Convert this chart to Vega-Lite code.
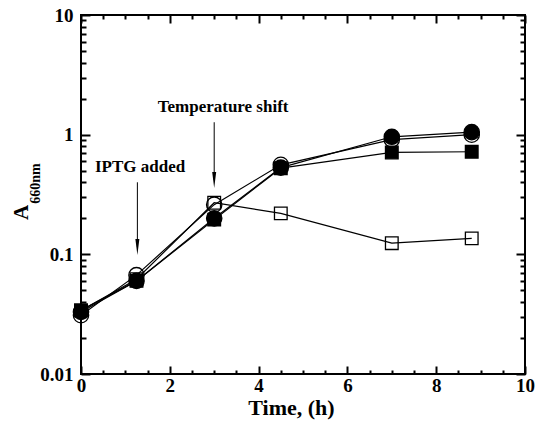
{
  "$schema": "https://vega.github.io/schema/vega-lite/v6.json",
  "width": 444,
  "height": 359,
  "autosize": "none",
  "padding": {"left": 81, "top": 15, "right": 17, "bottom": 49},
  "background": "white",
  "config": {
    "view": {"stroke": "black", "strokeWidth": 2},
    "axis": {
      "grid": false,
      "domain": false,
      "tickColor": "black",
      "labelColor": "black",
      "titleColor": "black",
      "labelFont": "Liberation Serif",
      "titleFont": "Liberation Serif",
      "labelFontWeight": "bold",
      "titleFontWeight": "bold"
    }
  },
  "datasets": {
    "growth": [
      {"series": "open square", "time": 0, "a660": 0.034},
      {"series": "filled square", "time": 0, "a660": 0.034},
      {"series": "open circle", "time": 0, "a660": 0.031},
      {"series": "filled circle", "time": 0, "a660": 0.033},
      {"series": "open square", "time": 1.25, "a660": 0.062},
      {"series": "filled square", "time": 1.25, "a660": 0.06},
      {"series": "open circle", "time": 1.25, "a660": 0.067},
      {"series": "filled circle", "time": 1.25, "a660": 0.06},
      {"series": "filled circle", "time": 3, "a660": 0.2},
      {"series": "open circle", "time": 3, "a660": 0.26},
      {"series": "open square", "time": 3, "a660": 0.27},
      {"series": "filled square", "time": 3, "a660": 0.195},
      {"series": "open square", "time": 4.5, "a660": 0.22},
      {"series": "filled square", "time": 4.5, "a660": 0.525},
      {"series": "open circle", "time": 4.5, "a660": 0.56},
      {"series": "filled circle", "time": 4.5, "a660": 0.53},
      {"series": "open square", "time": 7, "a660": 0.124},
      {"series": "filled square", "time": 7, "a660": 0.71},
      {"series": "open circle", "time": 7, "a660": 0.91},
      {"series": "filled circle", "time": 7, "a660": 0.96},
      {"series": "open square", "time": 8.8, "a660": 0.136},
      {"series": "filled square", "time": 8.8, "a660": 0.72},
      {"series": "open circle", "time": 8.8, "a660": 1.0},
      {"series": "filled circle", "time": 8.8, "a660": 1.05}
    ],
    "notes": [
      {"label": "IPTG added", "time": 1.33, "a660": 0.536},
      {"label": "Temperature shift", "time": 3.2, "a660": 1.71}
    ],
    "arrows": [
      {"time": 1.27, "top": 0.4, "head": 0.115},
      {"time": 3.0, "top": 1.27, "head": 0.418}
    ]
  },
  "resolve": {"axis": {"x": "independent", "y": "independent"}},
  "layer": [
    {
      "data": {"name": "growth"},
      "mark": {"type": "line", "color": "black", "strokeWidth": 1.2},
      "encoding": {
        "x": {
          "field": "time", "type": "quantitative",
          "scale": {"domain": [0, 10], "nice": false, "zero": false},
          "axis": {
            "orient": "bottom", "values": [0, 2, 4, 6, 8, 10], "ticks": false, "tickSize": 0,
            "labelFontSize": 19, "labelPadding": 2, "labelFlush": false, "labelOverlap": false,
            "title": "Time, (h)", "titleFontSize": 22, "titleX": 210, "titleY": 40,
            "titleAlign": "center", "titleBaseline": "alphabetic"
          }
        },
        "y": {
          "field": "a660", "type": "quantitative",
          "scale": {"type": "log", "domain": [0.01, 10], "nice": false},
          "axis": {
            "orient": "left", "values": [0.01, 0.1, 1, 10], "ticks": false, "tickSize": 0,
            "labelFontSize": 19, "labelPadding": 8, "labelFlush": false, "labelOverlap": false,
            "labelExpr": "datum.value == 0.01 ? '0.01' : datum.value == 0.1 ? '0.1' : datum.value == 1 ? '1' : '10'",
            "title": "A", "titleFontSize": 21, "titleAngle": 270, "titleX": -54, "titleY": 197,
            "titleAlign": "center", "titleBaseline": "alphabetic"
          }
        },
        "detail": {"field": "series", "type": "nominal"}
      }
    },
    {
      "data": {"name": "growth"},
      "mark": {"type": "point", "stroke": "black", "strokeWidth": 1.3, "opacity": 1},
      "encoding": {
        "x": {
          "field": "time", "type": "quantitative",
          "scale": {"domain": [0, 10], "nice": false, "zero": false},
          "axis": {"orient": "top", "values": [0, 2, 4, 6, 8, 10], "labels": false, "tickSize": -8, "tickWidth": 2, "title": null}
        },
        "y": {
          "field": "a660", "type": "quantitative",
          "scale": {"type": "log", "domain": [0.01, 10], "nice": false},
          "axis": {"orient": "right", "values": [0.01, 0.1, 1, 10], "labels": false, "tickSize": -9, "tickWidth": 2, "title": null}
        },
        "shape": {
          "field": "series", "type": "nominal",
          "scale": {"domain": ["filled circle", "open circle", "filled square", "open square"], "range": ["circle", "circle", "square", "square"]},
          "legend": null
        },
        "fill": {
          "field": "series", "type": "nominal",
          "scale": {"domain": ["filled circle", "open circle", "filled square", "open square"], "range": ["black", "transparent", "black", "transparent"]},
          "legend": null
        },
        "size": {
          "field": "series", "type": "nominal",
          "scale": {"type": "ordinal", "domain": ["filled circle", "open circle", "filled square", "open square"], "range": [235, 235, 160, 160]},
          "legend": null
        }
      }
    },
    {
      "data": {"name": "notes"},
      "mark": {"type": "text", "font": "Liberation Serif", "fontWeight": "bold", "fontSize": 17, "color": "black", "align": "center", "baseline": "middle"},
      "encoding": {
        "x": {
          "field": "time", "type": "quantitative",
          "scale": {"domain": [0, 10], "nice": false, "zero": false},
          "axis": {"orient": "bottom", "values": [0, 2, 4, 6, 8, 10], "labels": false, "tickSize": -8, "tickWidth": 2, "title": null}
        },
        "y": {
          "field": "a660", "type": "quantitative",
          "scale": {"type": "log", "domain": [0.01, 10], "nice": false},
          "axis": {"orient": "left", "values": [0.01, 0.1, 1, 10], "labels": false, "tickSize": -9, "tickWidth": 2, "title": null}
        },
        "text": {"field": "label", "type": "nominal"}
      }
    },
    {
      "data": {"name": "arrows"},
      "mark": {"type": "rule", "color": "black", "strokeWidth": 1},
      "encoding": {
        "x": {
          "field": "time", "type": "quantitative",
          "scale": {"domain": [0, 10], "nice": false, "zero": false},
          "axis": {"orient": "top", "values": [0.5, 1, 1.5, 2.5, 3, 3.5, 4.5, 5, 5.5, 6.5, 7, 7.5, 8.5, 9, 9.5], "labels": false, "tickSize": -4, "tickWidth": 2, "title": null}
        },
        "y": {
          "field": "top", "type": "quantitative",
          "scale": {"type": "log", "domain": [0.01, 10], "nice": false},
          "axis": {"orient": "right", "values": [0.02, 0.03, 0.04, 0.05, 0.06, 0.07, 0.08, 0.09, 0.2, 0.3, 0.4, 0.5, 0.6, 0.7, 0.8, 0.9, 2, 3, 4, 5, 6, 7, 8, 9], "labels": false, "tickSize": -5, "tickWidth": 2, "title": null}
        },
        "y2": {"field": "head"}
      }
    },
    {
      "data": {"name": "arrows"},
      "mark": {"type": "point", "shape": "M-0.25,-1L0.25,-1L0,1Z", "filled": true, "color": "black", "opacity": 1, "size": 256},
      "encoding": {
        "x": {
          "field": "time", "type": "quantitative",
          "scale": {"domain": [0, 10], "nice": false, "zero": false},
          "axis": {"orient": "bottom", "values": [0.5, 1, 1.5, 2.5, 3, 3.5, 4.5, 5, 5.5, 6.5, 7, 7.5, 8.5, 9, 9.5], "labels": false, "tickSize": -4, "tickWidth": 2, "title": null}
        },
        "y": {
          "field": "head", "type": "quantitative",
          "scale": {"type": "log", "domain": [0.01, 10], "nice": false},
          "axis": {
            "orient": "left", "values": [0.02, 0.03, 0.04, 0.05, 0.06, 0.07, 0.08, 0.09, 0.2, 0.3, 0.4, 0.5, 0.6, 0.7, 0.8, 0.9, 2, 3, 4, 5, 6, 7, 8, 9],
            "labels": false, "tickSize": -5, "tickWidth": 2,
            "title": "660nm", "titleFontSize": 14, "titleAngle": 270, "titleX": -42, "titleY": 168,
            "titleAlign": "center", "titleBaseline": "alphabetic"
          }
        }
      }
    }
  ]
}
